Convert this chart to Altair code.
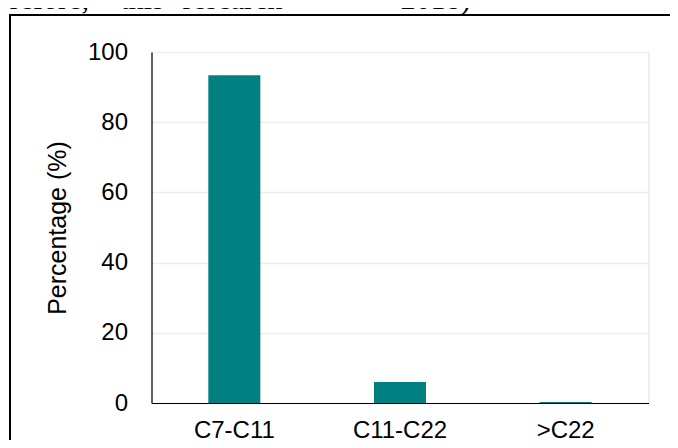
import altair as alt
import pandas as pd

categories = ["C7-C11", "C11-C22", ">C22"]
percentages = [93.4, 6.0, 0.3]

header_words = ["erefore,", "this", "research", "2018)"]
header_x = [-155, -31, 31, 249]

df = pd.DataFrame({"cat": categories, "pct": percentages})
one = pd.DataFrame({"a": [0]})
hdr = pd.DataFrame({"w": header_words, "px": header_x})

bars = alt.Chart(df).mark_bar(color="#008080").encode(
    x=alt.X("cat:N", sort=categories,
            scale=alt.Scale(paddingInner=0.686, paddingOuter=0.343),
            axis=alt.Axis(title=None, labelAngle=0, ticks=False, labelPadding=15,
                          labelFontSize=24, labelFont="Liberation Sans",
                          labelColor="#000000", domainColor="#000000", domainWidth=1.2)),
    y=alt.Y("pct:Q", scale=alt.Scale(domain=[0, 100], nice=False),
            axis=alt.Axis(title="Percentage (%)", values=[0, 20, 40, 60, 80, 100],
                          ticks=False, labelPadding=24, labelFontSize=24,
                          labelFont="Liberation Sans", labelColor="#000000",
                          titleFont="Liberation Sans", titleFontSize=25,
                          titleFontWeight="normal", titleColor="#000000",
                          titleAngle=-90, titleBaseline="alphabetic",
                          titleX=-86, titleY=175.5, titleAlign="center",
                          domainColor="#000000", domainWidth=1.2,
                          gridColor="#ededed", gridWidth=1.5)),
)

frame_left = alt.Chart(one).mark_rule(color="#000000", strokeWidth=2).encode(
    x=alt.value(-141.5), y=alt.value(-37), y2=alt.value(420))
frame_top = alt.Chart(one).mark_rule(color="#000000", strokeWidth=2).encode(
    x=alt.value(-142.5), x2=alt.value(600), y=alt.value(-37))

header = alt.Chart(hdr).mark_text(font="Liberation Serif", fontSize=30, align="left",
                                  baseline="alphabetic", color="#000000").encode(
    x=alt.X("px:Q", scale=None), y=alt.value(-43), text="w:N")

chart = alt.layer(bars, frame_left, frame_top, header).properties(
    width=497, height=351,
    autosize=alt.AutoSizeParams(type="none"),
    padding={"left": 143.5, "top": 44, "right": 21.5, "bottom": 37},
).configure_view(stroke=None).configure(background="#ffffff")

chart.save("out.html", embed_options={"renderer": "svg", "actions": False})
